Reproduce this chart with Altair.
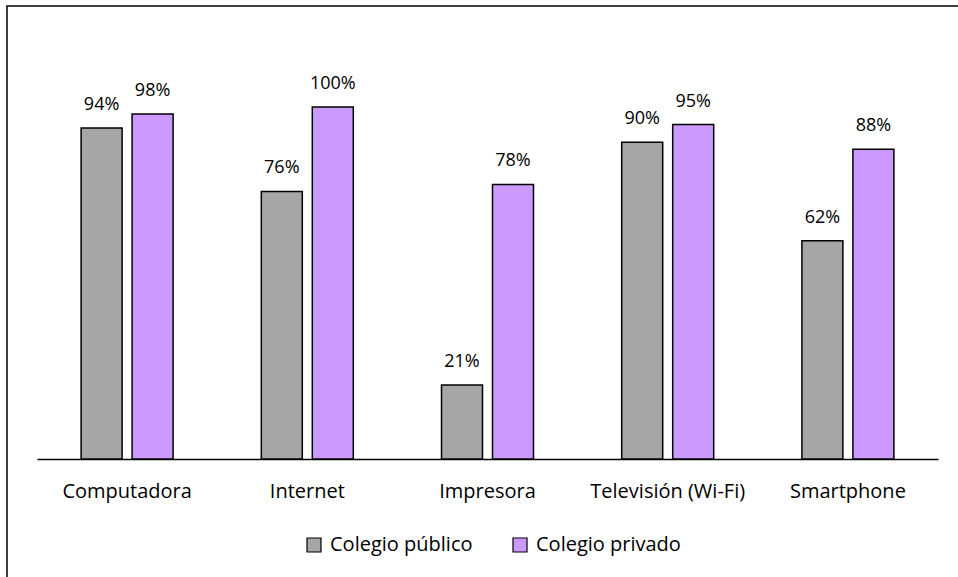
import altair as alt
import pandas as pd

categories = ["Computadora", "Internet", "Impresora", "Televisión (Wi-Fi)", "Smartphone"]
series = ["Colegio público", "Colegio privado"]
publico = [0.94, 0.76, 0.21, 0.90, 0.62]
privado = [0.98, 1.00, 0.78, 0.95, 0.88]
colors = ["#A6A6A6", "#CC99FF"]

rows = []
for i, cat in enumerate(categories):
    rows.append({"categoria": cat, "colegio": series[0], "valor": publico[i]})
    rows.append({"categoria": cat, "colegio": series[1], "valor": privado[i]})
df = pd.DataFrame(rows)

FONT = "Open Sans"
W, H = 901, 352

x = alt.X(
    "categoria:N",
    sort=categories,
    scale=alt.Scale(paddingInner=0, paddingOuter=0),
    axis=alt.Axis(
        title=None, labelAngle=0, ticks=False, domainColor="#000000",
        domainWidth=1.5, labelFont=FONT, labelFontSize=20, labelColor="#000000",
        labelPadding=22,
    ),
)
xoff = alt.XOffset(
    "colegio:N", sort=series,
    scale=alt.Scale(paddingInner=0.196, paddingOuter=0.865),
)
y = alt.Y("valor:Q", scale=alt.Scale(domain=[0, 1], nice=False), axis=None)

base = alt.Chart(df).encode(x=x, xOffset=xoff, y=y)

bars = base.mark_bar(stroke="#000000", strokeWidth=1.5).encode(
    color=alt.Color(
        "colegio:N", sort=series,
        scale=alt.Scale(domain=series, range=colors),
        legend=alt.Legend(
            title=None, orient="none", direction="horizontal",
            legendX=267, legendY=428, symbolType="square", symbolSize=196,
            symbolStrokeColor="#000000", symbolStrokeWidth=1.2,
            labelFont=FONT, labelFontSize=20, labelColor="#000000",
            labelOffset=6, columnPadding=37,
        ),
    )
)

labels = base.mark_text(
    baseline="alphabetic", dy=-18, font=FONT, fontSize=18, color="#000000"
).encode(text=alt.Text("valor:Q", format=".0%"))

frame = alt.Chart(pd.DataFrame({"k": [0]})).mark_rect(
    fill=None, stroke="#000000", strokeWidth=1.5
).encode(
    x=alt.value(-30), x2=alt.value(W + 100),
    y=alt.value(-101), y2=alt.value(H + 300),
)

chart = (
    alt.layer(frame, bars, labels)
    .properties(
        width=W, height=H,
        autosize=alt.AutoSizeParams(type="none"),
        padding={"left": 37, "top": 107, "right": 20, "bottom": 118},
        background="#ffffff",
    )
    .configure_view(stroke=None)
)

chart.save("out.html", embed_options={"renderer": "svg", "actions": False})
